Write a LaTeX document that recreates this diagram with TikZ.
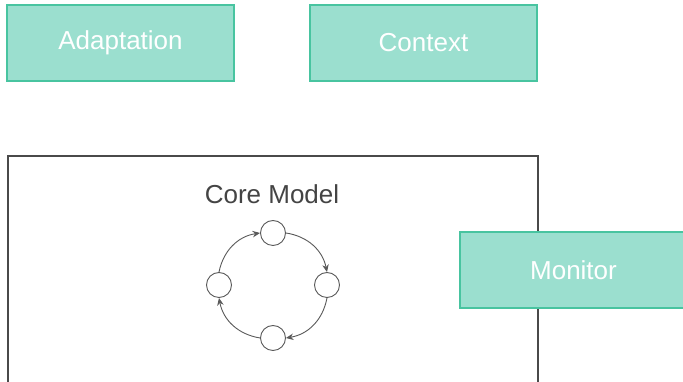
\documentclass[tikz,border=0pt]{standalone}
\usepackage{fontspec}
\setmainfont{Liberation Sans}
\usetikzlibrary{arrows.meta}
\definecolor{tealfill}{RGB}{155,223,207}
\definecolor{tealedge}{RGB}{72,196,160}
\definecolor{corestroke}{RGB}{74,74,74}
\definecolor{coretext}{RGB}{68,68,68}
\definecolor{ringstroke}{RGB}{90,90,90}
\tikzset{
  tealbox/.style={draw=tealedge, fill=tealfill, line width=2pt,
    minimum width=227pt, minimum height=76pt, inner sep=0pt,
    text=white, font=\fontsize{26}{31}\selectfont},
  corebox/.style={draw=corestroke, line width=1.6pt, fill=white},
  ringnode/.style={circle, draw=ringstroke, line width=0.9pt, fill=white,
    minimum size=25pt, inner sep=0pt},
  ringarrow/.style={draw=ringstroke, line width=0.9pt,
    -{Stealth[length=7.5pt,width=6.5pt]}, bend left=35}
}
\begin{document}
\begin{tikzpicture}[x=1pt,y=1pt]
  \useasboundingbox (0,0) rectangle (683,382);
  \begin{scope}
    \clip (0,0) rectangle (683,382);
    % outer container of the core model
    \draw[corebox] (8,-20) rectangle (538,226);
    \node[font=\fontsize{26}{31}\selectfont, text=coretext] (coretitle) at (272,188) {Core Model};
    % four-state cycle
    \node[ringnode] (ctop) at (273,149) {};
    \node[ringnode] (cright) at (327,97) {};
    \node[ringnode] (cbottom) at (273,44) {};
    \node[ringnode] (cleft) at (219,97) {};
    \draw[ringarrow] (cleft.north) to (ctop.west);
    \draw[ringarrow] (ctop.east) to (cright.north);
    \draw[ringarrow] (cright.south) to (cbottom.east);
    \draw[ringarrow] (cbottom.west) to (cleft.south);
    % surrounding components
    \node[tealbox] (adaptation) at (120.5,339) {Adaptation};
    \node[tealbox] (context) at (423.5,339) {\raisebox{-2pt}{Context}};
    \node[tealbox] (monitor) at (573.5,111.5) {Monitor};
  \end{scope}
\end{tikzpicture}
\end{document}
